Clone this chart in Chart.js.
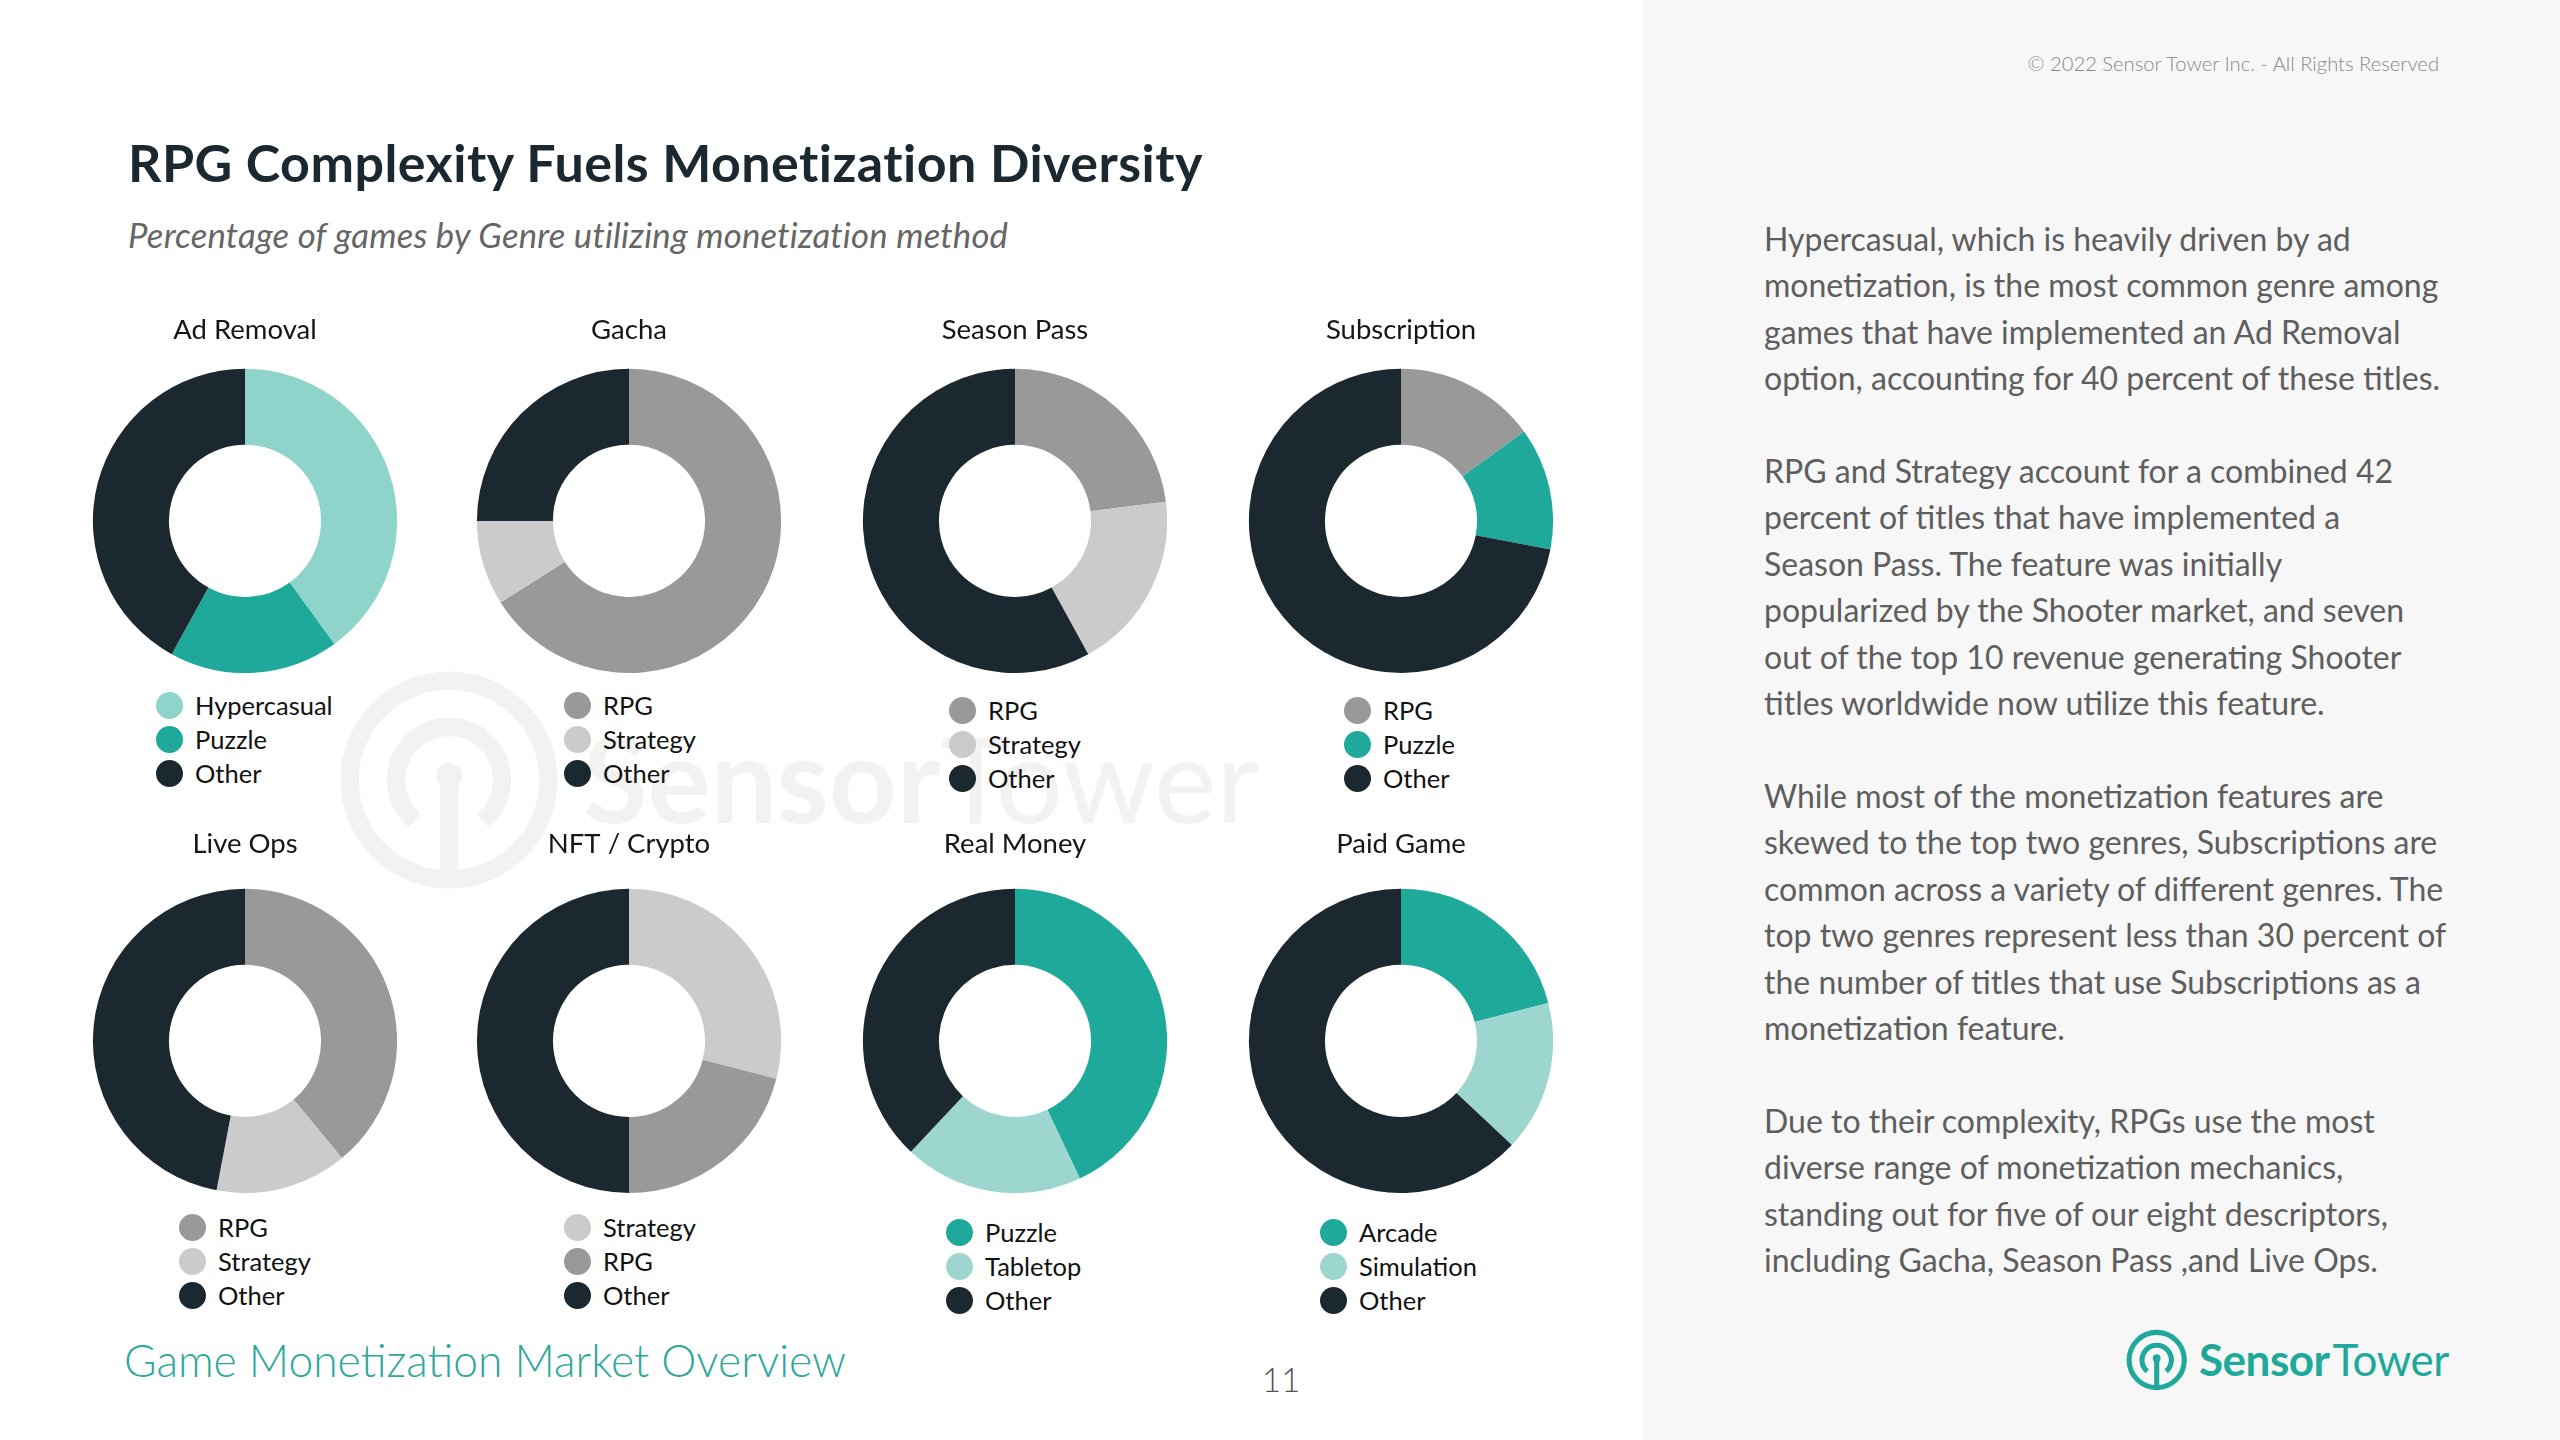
<!DOCTYPE html>
<html>
<head>
<meta charset="utf-8">
<title>RPG Complexity Fuels Monetization Diversity</title>
<script src="https://cdn.jsdelivr.net/npm/chart.js@4.4.1/dist/chart.umd.min.js"></script>
<style>
  html, body { margin: 0; padding: 0; }
  body { width: 2560px; height: 1440px; position: relative; overflow: hidden; background: #fff; font-family: Lato, "Noto Sans", sans-serif; }
  .side { position: absolute; left: 1643px; top: 0; width: 917px; height: 1440px; background: #f7f7f7; }
  .txt { position: absolute; margin: 0; white-space: nowrap; }
  #title { left: 128px; top: 131px; font-size: 52px; line-height: 62.4px; font-weight: 700; color: #1c2830; letter-spacing: 0.45px; }
  #subtitle { left: 128px; top: 214px; font-size: 34.7px; line-height: 41.6px; font-weight: 400; font-style: italic; color: #666; letter-spacing: 0.2px; }
  #copy { right: 121px; top: 51px; font-size: 20.2px; line-height: 24.2px; font-weight: 300; color: #888; }
  #body { left: 1764px; top: 216px; font-size: 32px; line-height: 46.4px; color: #5e5e5e; }
  #footer { left: 124px; top: 1333px; font-size: 44.4px; line-height: 53.3px; font-weight: 300; color: #2ea89b; }
  #page { left: 1262px; top: 1360px; font-size: 33px; line-height: 39.6px; font-weight: 300; color: #555; }
  .chartbox { position: absolute; }
  .legend { position: absolute; font-size: 25.5px; color: #111; }
  .legend .item { position: absolute; left: 0; white-space: nowrap; height: 28px; line-height: 28px; }
  .legend .dot { position: absolute; left: -13.5px; top: 0.5px; width: 27px; height: 27px; border-radius: 50%; }
  .legend .lab { position: absolute; left: 26px; top: 0; }
  svg { position: absolute; overflow: visible; }
</style>
</head>
<body>
<div class="side"></div>

<!-- faint watermark -->
<svg id="watermark" style="left:0;top:0" width="1640" height="1000">
  <g transform="translate(449,780) scale(1.08)" fill="none" stroke="#f2f2f2" stroke-width="17">
    <circle r="92"></circle>
    <path d="M -31.5 37.5 A 49 49 0 1 1 31.5 37.5"></path>
    <line x1="0" y1="-4" x2="0" y2="100"></line>
    <circle r="12" cy="-4" fill="#f2f2f2" stroke="none"></circle>
  </g>
  <text x="583" y="823" font-family="Lato" font-size="118" fill="#f2f2f2"><tspan font-weight="700">Sensor</tspan><tspan font-weight="400">Tower</tspan></text>
</svg>

<h1 class="txt" id="title">RPG Complexity Fuels Monetization Diversity</h1>
<div class="txt" id="subtitle">Percentage of games by Genre utilizing monetization method</div>
<div class="txt" id="copy">© 2022 Sensor Tower Inc. - All Rights Reserved</div>

<div class="txt" id="body">Hypercasual, which is heavily driven by ad<br>monetization, is the most common genre among<br>games that have implemented an Ad Removal<br>option, accounting for 40 percent of these titles.<br><br>RPG and Strategy account for a combined 42<br>percent of titles that have implemented a<br>Season Pass. The feature was initially<br>popularized by the Shooter market, and seven<br>out of the top 10 revenue generating Shooter<br>titles worldwide now utilize this feature.<br><br>While most of the monetization features are<br>skewed to the top two genres, Subscriptions are<br>common across a variety of different genres. The<br>top two genres represent less than 30 percent of<br>the number of titles that use Subscriptions as a<br>monetization feature.<br><br>Due to their complexity, RPGs use the most<br>diverse range of monetization mechanics,<br>standing out for five of our eight descriptors,<br>including Gacha, Season Pass ,and Live Ops.</div>

<div class="txt" id="footer">Game Monetization Market Overview</div>
<div class="txt" id="page">11</div>

<!-- brand logo -->
<svg style="left:2100px;top:1300px" width="380" height="120">
  <g transform="translate(56.7,60) scale(0.3)" fill="none" stroke="#20a99a" stroke-width="17">
    <circle r="92"></circle>
    <path d="M -31.5 37.5 A 49 49 0 1 1 31.5 37.5"></path>
    <line x1="0" y1="-6" x2="0" y2="100"></line>
    <circle r="13" cy="-6" fill="#20a99a" stroke="none"></circle>
  </g>
  <text x="99" y="76" font-family="Lato" font-size="44" fill="#20a99a" letter-spacing="-0.5"><tspan font-weight="700">Sensor</tspan><tspan font-weight="400" dx="3">Tower</tspan></text>
</svg>

<div id="charts"></div>

<script>
// share of titles (%) by genre for each monetization method
const chartTitles = ['Ad Removal', 'Gacha', 'Season Pass', 'Subscription', 'Live Ops', 'NFT / Crypto', 'Real Money', 'Paid Game'];

const adRemovalLabels = ['Hypercasual', 'Puzzle', 'Other'];
const adRemovalShares = [40, 18, 42];
const gachaLabels = ['RPG', 'Strategy', 'Other'];
const gachaShares = [66, 9, 25];
const seasonPassLabels = ['RPG', 'Strategy', 'Other'];
const seasonPassShares = [23, 19, 58];
const subscriptionLabels = ['RPG', 'Puzzle', 'Other'];
const subscriptionShares = [15, 13, 72];
const liveOpsLabels = ['RPG', 'Strategy', 'Other'];
const liveOpsShares = [39, 14, 47];
const nftLabels = ['Strategy', 'RPG', 'Other'];
const nftShares = [29, 21, 50];
const realMoneyLabels = ['Puzzle', 'Tabletop', 'Other'];
const realMoneyShares = [43, 19, 38];
const paidGameLabels = ['Arcade', 'Simulation', 'Other'];
const paidGameShares = [21, 16, 63];

const allLabels = [adRemovalLabels, gachaLabels, seasonPassLabels, subscriptionLabels, liveOpsLabels, nftLabels, realMoneyLabels, paidGameLabels];
const allShares = [adRemovalShares, gachaShares, seasonPassShares, subscriptionShares, liveOpsShares, nftShares, realMoneyShares, paidGameShares];

const GENRE_COLORS = {
  Hypercasual: '#8fd4cb', Puzzle: '#1fa99a', Arcade: '#1fa99a',
  Tabletop: '#9dd6cf', Simulation: '#9dd6cf',
  RPG: '#999999', Strategy: '#cbcbcb', Other: '#1c2830'
};

// layout: donut centres, legend anchors (dot centre x, first row y)
const centersX = [245, 629, 1015, 1401];
const rows = [
  {top: 301, height: 372, padTop: 12.4, padBottom: 22.4},
  {top: 815, height: 378, padTop: 12.4, padBottom: 28.4}
];
const legendPos = [
  [169, 705], [577, 705], [962, 710], [1357, 710],
  [192, 1227], [577, 1227], [959, 1232], [1333, 1232]
];
const BOX_W = 340;
const ROW_GAP = 34.2;

const host = document.getElementById('charts');

function buildLegend(chart, idx){
  const items = (chart.legend && chart.legend.legendItems && chart.legend.legendItems.length)
    ? chart.legend.legendItems
    : Chart.overrides.doughnut.plugins.legend.labels.generateLabels(chart);
  const box = document.createElement('div');
  box.className = 'legend';
  box.style.left = legendPos[idx][0] + 'px';
  box.style.top = (legendPos[idx][1] - 14) + 'px';
  items.forEach((it, i) => {
    const row = document.createElement('div');
    row.className = 'item';
    row.style.top = (i * ROW_GAP) + 'px';
    row.innerHTML = `<span class="dot" style="background:${it.fillStyle}"></span><span class="lab">${it.text}</span>`;
    box.appendChild(row);
  });
  host.appendChild(box);
}

chartTitles.forEach((title, idx) => {
  const row = rows[Math.floor(idx / 4)];
  const cx = centersX[idx % 4];
  const wrap = document.createElement('div');
  wrap.className = 'chartbox';
  wrap.style.left = (cx - BOX_W / 2) + 'px';
  wrap.style.top = row.top + 'px';
  const canvas = document.createElement('canvas');
  canvas.width = BOX_W;
  canvas.height = row.height;
  wrap.appendChild(canvas);
  host.appendChild(wrap);

  const labels = allLabels[idx];
  const chart = new Chart(canvas, {
    type: 'doughnut',
    data: {
      labels,
      datasets: [{
        data: allShares[idx],
        backgroundColor: labels.map(l => GENRE_COLORS[l]),
        borderWidth: 0,
        hoverOffset: 0
      }]
    },
    options: {
      responsive: false,
      animation: false,
      cutout: '50%',
      layout: { padding: 0 },
      plugins: {
        legend: { display: false },
        tooltip: { enabled: false },
        title: {
          display: true,
          text: title,
          color: '#161616',
          font: { family: 'Lato', size: 27.5, weight: 'normal', lineHeight: 1.2 },
          padding: { top: row.padTop, bottom: row.padBottom }
        }
      }
    }
  });
  buildLegend(chart, idx);
});
</script>
</body>
</html>
